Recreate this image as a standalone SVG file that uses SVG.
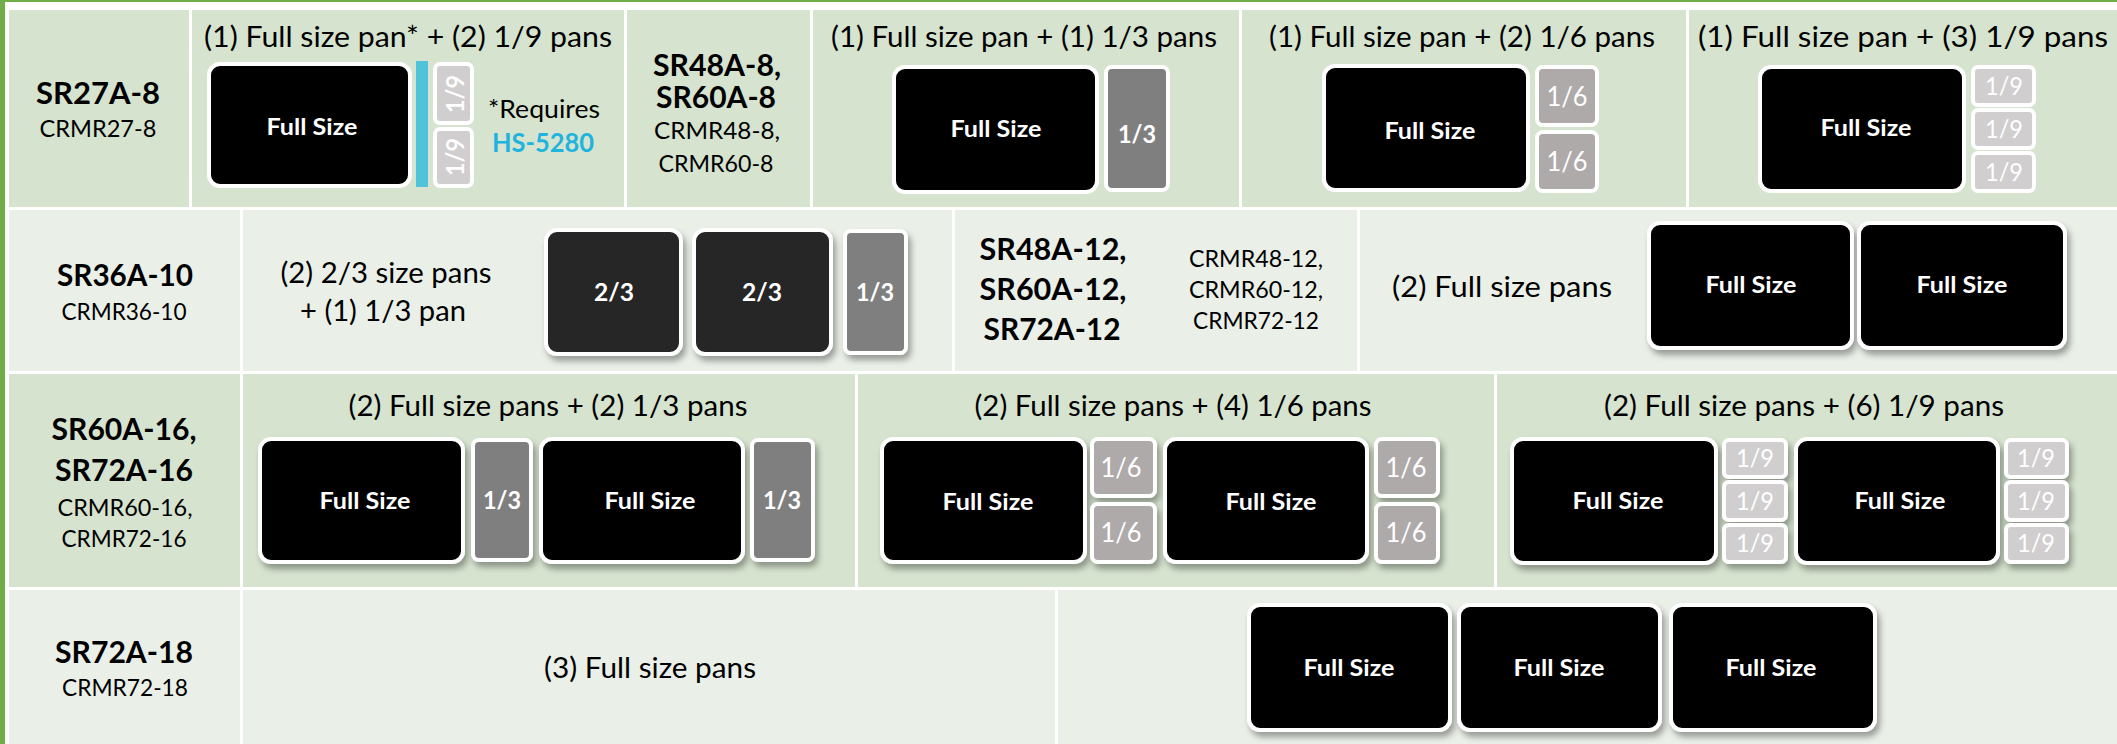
<svg xmlns="http://www.w3.org/2000/svg" width="2117" height="744" viewBox="0 0 2117 744">
<defs>
<filter id="sh" x="-10%" y="-10%" width="130%" height="140%">
<feDropShadow dx="3" dy="5" stdDeviation="3" flood-color="#000" flood-opacity="0.35"/>
</filter>
</defs>
<style>
.c1{fill:#D6E3CF}
.c2{fill:#EAEFE8}
text{font-family:Lato,"Open Sans","Liberation Sans",sans-serif;text-anchor:middle;fill:#000}
.m{font-weight:bold;font-size:30px}
.s{font-size:24px}
.h{font-size:29px}
.fs rect{fill:#000;stroke:#fff;stroke-width:4}
.tw{fill:#262626;stroke:#fff;stroke-width:4}
.th{fill:#7F7F7F;stroke:#fff;stroke-width:4}
.sx{fill:#AEAAAA;stroke:#fff;stroke-width:4}
.nn{fill:#D0CECE;stroke:#fff;stroke-width:4}
.lb{fill:#fff;font-weight:bold;font-size:23.5px}
.lr{fill:#fff;font-size:26px}
</style>
<rect x="0" y="0" width="2117" height="744" fill="#fff"/>
<rect x="0" y="0" width="2117" height="2" fill="#70AD47"/>
<rect x="0" y="0" width="5" height="744" fill="#70AD47"/>

<g id="cells">
<rect class="c1" x="9" y="10" width="180" height="197"/>
<rect class="c1" x="192" y="10" width="432" height="197"/>
<rect class="c1" x="627" y="10" width="183" height="197"/>
<rect class="c1" x="813" y="10" width="426" height="197"/>
<rect class="c1" x="1242" y="10" width="444" height="197"/>
<rect class="c1" x="1689" y="10" width="428" height="197"/>
<rect class="c2" x="9" y="210" width="231" height="161"/>
<rect class="c2" x="243" y="210" width="709" height="161"/>
<rect class="c2" x="955" y="210" width="402" height="161"/>
<rect class="c2" x="1360" y="210" width="757" height="161"/>
<rect class="c1" x="9" y="374" width="231" height="213"/>
<rect class="c1" x="243" y="374" width="612" height="213"/>
<rect class="c1" x="858" y="374" width="636" height="213"/>
<rect class="c1" x="1497" y="374" width="620" height="213"/>
<rect class="c2" x="9" y="590" width="231" height="154"/>
<rect class="c2" x="243" y="590" width="812" height="154"/>
<rect class="c2" x="1058" y="590" width="1059" height="154"/>
</g>

<g id="sr27">
<text class="m" x="98" y="104" style="font-size:31px" textLength="124" lengthAdjust="spacingAndGlyphs">SR27A-8</text>
<text class="s" x="98" y="137" textLength="117" lengthAdjust="spacingAndGlyphs">CRMR27-8</text>
</g>
<g id="sr27-pans">
<text class="h" x="408" y="47" textLength="408" lengthAdjust="spacingAndGlyphs">(1) Full size pan* + (2) 1/9 pans</text>
<g class="fs"><rect x="209" y="64" width="201" height="122" rx="11"/></g>
<text class="lb" x="312" y="135" textLength="91" lengthAdjust="spacingAndGlyphs">Full Size</text>
<rect x="416" y="61" width="12" height="126" fill="#4FC3D8"/>
<rect class="nn" x="435" y="64" width="37" height="59" rx="5"/>
<rect class="nn" x="435" y="129" width="37" height="57" rx="5"/>
<text class="lb" transform="translate(464,94) rotate(-90)" x="0" y="0" style="font-size:24px" textLength="38" lengthAdjust="spacingAndGlyphs">1/9</text>
<text class="lb" transform="translate(464,157) rotate(-90)" x="0" y="0" style="font-size:24px" textLength="38" lengthAdjust="spacingAndGlyphs">1/9</text>
<text x="544" y="118" style="font-size:25px" textLength="112" lengthAdjust="spacingAndGlyphs">*Requires</text>
<text x="543" y="152" style="font-size:26px;font-weight:bold;fill:#1FB4DE" textLength="102" lengthAdjust="spacingAndGlyphs">HS-5280</text>
</g>

<g id="sr48-8">
<text class="m" x="717" y="76" textLength="128" lengthAdjust="spacingAndGlyphs">SR48A-8,</text>
<text class="m" x="716" y="108" textLength="120" lengthAdjust="spacingAndGlyphs">SR60A-8</text>
<text class="s" x="717" y="139" textLength="126" lengthAdjust="spacingAndGlyphs">CRMR48-8,</text>
<text class="s" x="716" y="172" textLength="115" lengthAdjust="spacingAndGlyphs">CRMR60-8</text>
</g>
<g id="sr48-8-a">
<text class="h" x="1024" y="47" textLength="386" lengthAdjust="spacingAndGlyphs">(1) Full size pan + (1) 1/3 pans</text>
<g class="fs"><rect x="894" y="67" width="203" height="125" rx="11"/></g>
<text class="lb" x="996" y="137" textLength="91" lengthAdjust="spacingAndGlyphs">Full Size</text>
<rect class="th" x="1106" y="67" width="62" height="123" rx="6"/>
<text class="lb" x="1137" y="143" style="font-size:24px" textLength="38" lengthAdjust="spacingAndGlyphs">1/3</text>
</g>
<g id="sr48-8-b">
<text class="h" x="1462" y="47" textLength="386" lengthAdjust="spacingAndGlyphs">(1) Full size pan + (2) 1/6 pans</text>
<g class="fs"><rect x="1324" y="66" width="204" height="124" rx="11"/></g>
<text class="lb" x="1430" y="139" textLength="91" lengthAdjust="spacingAndGlyphs">Full Size</text>
<rect class="sx" x="1537" y="67" width="60" height="58" rx="6"/>
<rect class="sx" x="1537" y="132" width="60" height="59" rx="6"/>
<text class="lr" x="1567" y="106" textLength="41" lengthAdjust="spacingAndGlyphs">1/6</text>
<text class="lr" x="1567" y="171" textLength="41" lengthAdjust="spacingAndGlyphs">1/6</text>
</g>
<g id="sr48-8-c">
<text class="h" x="1903" y="47" textLength="410" lengthAdjust="spacingAndGlyphs">(1) Full size pan + (3) 1/9 pans</text>
<g class="fs"><rect x="1760" y="67" width="204" height="124" rx="11"/></g>
<text class="lb" x="1866" y="136" textLength="91" lengthAdjust="spacingAndGlyphs">Full Size</text>
<rect class="nn" x="1973" y="67" width="61" height="38" rx="5"/>
<rect class="nn" x="1973" y="110" width="61" height="38" rx="5"/>
<rect class="nn" x="1973" y="153" width="61" height="38" rx="5"/>
<text class="lr" x="2004" y="95" style="font-size:25px" textLength="38" lengthAdjust="spacingAndGlyphs">1/9</text>
<text class="lr" x="2004" y="138" style="font-size:25px" textLength="38" lengthAdjust="spacingAndGlyphs">1/9</text>
<text class="lr" x="2004" y="181" style="font-size:25px" textLength="38" lengthAdjust="spacingAndGlyphs">1/9</text>
</g>

<g id="sr36">
<text class="m" x="125" y="286" textLength="136" lengthAdjust="spacingAndGlyphs">SR36A-10</text>
<text class="s" x="124" y="320" textLength="125" lengthAdjust="spacingAndGlyphs">CRMR36-10</text>
</g>
<g id="sr36-pans">
<text class="h" x="386" y="283" textLength="211" lengthAdjust="spacingAndGlyphs">(2) 2/3 size pans</text>
<text class="h" x="383" y="321" textLength="166" lengthAdjust="spacingAndGlyphs">+ (1) 1/3 pan</text>
<g filter="url(#sh)">
<rect class="tw" x="546" y="230" width="135" height="124" rx="11"/>
<rect class="tw" x="694" y="230" width="137" height="124" rx="11"/>
<rect class="th" x="845" y="231" width="61" height="122" rx="6"/>
</g>
<text class="lb" x="614" y="301" style="font-size:24px" textLength="40" lengthAdjust="spacingAndGlyphs">2/3</text>
<text class="lb" x="762" y="301" style="font-size:24px" textLength="40" lengthAdjust="spacingAndGlyphs">2/3</text>
<text class="lb" x="875" y="301" style="font-size:24px" textLength="38" lengthAdjust="spacingAndGlyphs">1/3</text>
</g>

<g id="sr48-12">
<text class="m" x="1053" y="260" textLength="147" lengthAdjust="spacingAndGlyphs">SR48A-12,</text>
<text class="m" x="1053" y="300" textLength="147" lengthAdjust="spacingAndGlyphs">SR60A-12,</text>
<text class="m" x="1052" y="340" textLength="137" lengthAdjust="spacingAndGlyphs">SR72A-12</text>
<text x="1256" y="267" style="font-size:23px" textLength="134" lengthAdjust="spacingAndGlyphs">CRMR48-12,</text>
<text x="1256" y="298" style="font-size:23px" textLength="134" lengthAdjust="spacingAndGlyphs">CRMR60-12,</text>
<text x="1256" y="329" style="font-size:23px" textLength="126" lengthAdjust="spacingAndGlyphs">CRMR72-12</text>
</g>
<g id="sr48-12-pans">
<text class="h" x="1502" y="297" textLength="220" lengthAdjust="spacingAndGlyphs">(2) Full size pans</text>
<g class="fs" filter="url(#sh)">
<rect x="1649" y="223" width="203" height="125" rx="11"/>
<rect x="1859" y="223" width="206" height="125" rx="11"/>
</g>
<text class="lb" x="1751" y="293" textLength="91" lengthAdjust="spacingAndGlyphs">Full Size</text>
<text class="lb" x="1962" y="293" textLength="91" lengthAdjust="spacingAndGlyphs">Full Size</text>
</g>

<g id="sr60-16">
<text class="m" x="124" y="440" textLength="145" lengthAdjust="spacingAndGlyphs">SR60A-16,</text>
<text class="m" x="124" y="481" textLength="138" lengthAdjust="spacingAndGlyphs">SR72A-16</text>
<text class="s" x="125" y="516" textLength="135" lengthAdjust="spacingAndGlyphs">CRMR60-16,</text>
<text class="s" x="124" y="547" textLength="125" lengthAdjust="spacingAndGlyphs">CRMR72-16</text>
</g>
<g id="sr60-16-a">
<text class="h" x="548" y="416" textLength="399" lengthAdjust="spacingAndGlyphs">(2) Full size pans + (2) 1/3 pans</text>
<g filter="url(#sh)">
<g class="fs"><rect x="260" y="439" width="203" height="123" rx="11"/><rect x="541" y="439" width="202" height="123" rx="11"/></g>
<rect class="th" x="473" y="440" width="58" height="120" rx="6"/>
<rect class="th" x="752" y="440" width="61" height="120" rx="6"/>
</g>
<text class="lb" x="365" y="509" textLength="91" lengthAdjust="spacingAndGlyphs">Full Size</text>
<text class="lb" x="650" y="509" textLength="91" lengthAdjust="spacingAndGlyphs">Full Size</text>
<text class="lb" x="502" y="509" style="font-size:24px" textLength="38" lengthAdjust="spacingAndGlyphs">1/3</text>
<text class="lb" x="782" y="509" style="font-size:24px" textLength="38" lengthAdjust="spacingAndGlyphs">1/3</text>
</g>
<g id="sr60-16-b">
<text class="h" x="1173" y="416" textLength="397" lengthAdjust="spacingAndGlyphs">(2) Full size pans + (4) 1/6 pans</text>
<g filter="url(#sh)">
<g class="fs"><rect x="882" y="439" width="203" height="123" rx="11"/><rect x="1165" y="439" width="202" height="123" rx="11"/></g>
<rect class="sx" x="1092" y="439" width="63" height="57" rx="6"/>
<rect class="sx" x="1092" y="504" width="63" height="58" rx="6"/>
<rect class="sx" x="1376" y="439" width="62" height="57" rx="6"/>
<rect class="sx" x="1376" y="504" width="62" height="58" rx="6"/>
</g>
<text class="lb" x="988" y="510" textLength="91" lengthAdjust="spacingAndGlyphs">Full Size</text>
<text class="lb" x="1271" y="510" textLength="91" lengthAdjust="spacingAndGlyphs">Full Size</text>
<text class="lr" x="1121" y="477" textLength="41" lengthAdjust="spacingAndGlyphs">1/6</text>
<text class="lr" x="1121" y="542" textLength="41" lengthAdjust="spacingAndGlyphs">1/6</text>
<text class="lr" x="1406" y="477" textLength="41" lengthAdjust="spacingAndGlyphs">1/6</text>
<text class="lr" x="1406" y="542" textLength="41" lengthAdjust="spacingAndGlyphs">1/6</text>
</g>
<g id="sr60-16-c">
<text class="h" x="1804" y="416" textLength="400" lengthAdjust="spacingAndGlyphs">(2) Full size pans + (6) 1/9 pans</text>
<g filter="url(#sh)">
<g class="fs"><rect x="1512" y="439" width="204" height="124" rx="11"/><rect x="1796" y="439" width="202" height="124" rx="11"/></g>
<rect class="nn" x="1724" y="440" width="62" height="37" rx="5"/>
<rect class="nn" x="1724" y="482" width="62" height="38" rx="5"/>
<rect class="nn" x="1724" y="525" width="62" height="37" rx="5"/>
<rect class="nn" x="2006" y="440" width="61" height="37" rx="5"/>
<rect class="nn" x="2006" y="482" width="61" height="38" rx="5"/>
<rect class="nn" x="2006" y="525" width="61" height="37" rx="5"/>
</g>
<text class="lb" x="1618" y="509" textLength="91" lengthAdjust="spacingAndGlyphs">Full Size</text>
<text class="lb" x="1900" y="509" textLength="91" lengthAdjust="spacingAndGlyphs">Full Size</text>
<text class="lr" x="1755" y="467" style="font-size:25px" textLength="38" lengthAdjust="spacingAndGlyphs">1/9</text>
<text class="lr" x="1755" y="510" style="font-size:25px" textLength="38" lengthAdjust="spacingAndGlyphs">1/9</text>
<text class="lr" x="1755" y="552" style="font-size:25px" textLength="38" lengthAdjust="spacingAndGlyphs">1/9</text>
<text class="lr" x="2036" y="467" style="font-size:25px" textLength="38" lengthAdjust="spacingAndGlyphs">1/9</text>
<text class="lr" x="2036" y="510" style="font-size:25px" textLength="38" lengthAdjust="spacingAndGlyphs">1/9</text>
<text class="lr" x="2036" y="552" style="font-size:25px" textLength="38" lengthAdjust="spacingAndGlyphs">1/9</text>
</g>

<g id="sr72-18">
<text class="m" x="124" y="663" textLength="138" lengthAdjust="spacingAndGlyphs">SR72A-18</text>
<text class="s" x="125" y="696" textLength="126" lengthAdjust="spacingAndGlyphs">CRMR72-18</text>
</g>
<g id="sr72-18-label">
<text class="h" x="650" y="678" textLength="212" lengthAdjust="spacingAndGlyphs">(3) Full size pans</text>
</g>
<g id="sr72-18-pans">
<g class="fs" filter="url(#sh)">
<rect x="1249" y="605" width="201" height="125" rx="11"/>
<rect x="1459" y="605" width="201" height="125" rx="11"/>
<rect x="1671" y="605" width="204" height="125" rx="11"/>
</g>
<text class="lb" x="1349" y="676" textLength="91" lengthAdjust="spacingAndGlyphs">Full Size</text>
<text class="lb" x="1559" y="676" textLength="91" lengthAdjust="spacingAndGlyphs">Full Size</text>
<text class="lb" x="1771" y="676" textLength="91" lengthAdjust="spacingAndGlyphs">Full Size</text>
</g>
<g id="connectors"></g>
</svg>
